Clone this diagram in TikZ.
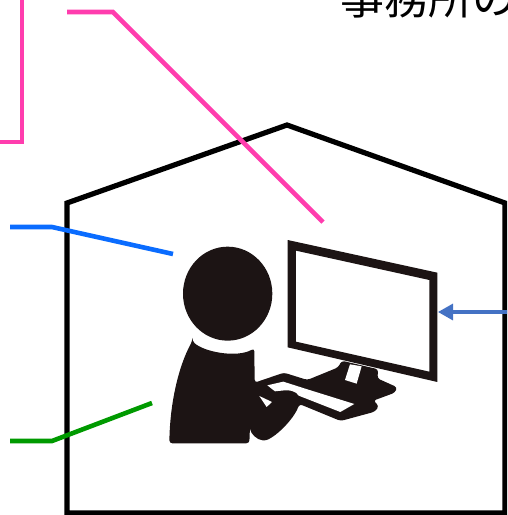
\documentclass[tikz,border=0pt]{standalone}
\usepackage{fontspec}
\newfontfamily\cjk{Noto Sans CJK JP}
\usetikzlibrary{arrows.meta}
\definecolor{pinkline}{HTML}{FF3DAE}
\definecolor{blueline}{HTML}{0A6CFF}
\definecolor{greenline}{HTML}{009A00}
\definecolor{arrowblue}{HTML}{4472C4}
\definecolor{iconblack}{HTML}{1C1414}
\tikzset{
  leader/.style={line width=4.6pt,line join=miter},
  housewall/.style={draw=black,line width=5.2pt,line join=miter},
  icon/.style={fill=iconblack,draw=none}
}
\begin{document}
\begin{tikzpicture}[x=1pt,y=-1pt]
\useasboundingbox (0,0) rectangle (507,515);
\begin{scope}
\clip (0,0) rectangle (507,515);
\draw[housewall] (67,203) -- (287,125) -- (505,203) -- (505,513) -- (67,513) -- cycle;
\coordinate (p1a) at (22,-5);
\coordinate (p1b) at (22,142);
\coordinate (p1c) at (-2,142);
\coordinate (p2a) at (67,12);
\coordinate (p2b) at (113,12);
\coordinate (p2c) at (323,222);
\coordinate (b1a) at (10,227);
\coordinate (b1b) at (52,227);
\coordinate (b1c) at (173,254);
\coordinate (g1a) at (10,441);
\coordinate (g1b) at (52,441);
\coordinate (g1c) at (152,403);
\coordinate (a1a) at (510,312);
\coordinate (a1b) at (438,312);
\draw[leader,pinkline] (p1a) -- (p1b) -- (p1c);
\draw[leader,pinkline] (p2a) -- (p2b) -- (p2c);
\draw[leader,blueline] (b1a) -- (b1b) -- (b1c);
\draw[leader,greenline] (g1a) -- (g1b) -- (g1c);
\draw[arrowblue,line width=3.2pt,-{Triangle[length=15pt,width=16pt]}] (a1a) -- (a1b);
\node[anchor=base west,inner sep=0pt,font=\cjk\fontsize{44pt}{44pt}\selectfont] (title) at (340,14) {事務所の};
\begin{scope}[shift={(160,230)},x=0.3333pt,y=-0.3333pt]
  \fill[icon] (203,191) ellipse [x radius=134,y radius=141];
  % monitor
  \fill[icon,even odd rule] (383,30) -- (832,128) -- (832,456) -- (383,352) -- cycle
     (408,62) -- (808,150) -- (808,425) -- (408,335) -- cycle;
  % body, arm, keyboard and stand
  \fill[icon,rounded corners=3pt] (97,333) .. controls (130,365) and (230,385) .. (283,355)
     -- (284,458) -- (372,428) -- (442,450) -- (535,412) -- (545,392) -- (655,418) -- (652,445)
     -- (712,472) -- (705,488) -- (640,512) -- (657,528) -- (645,545) -- (542,573) -- (418,522)
     .. controls (405,560) and (360,610) .. (318,632) .. controls (290,630) and (272,610) .. (270,590)
     -- (268,640) -- (28,640) .. controls (30,520) and (55,410) .. (97,333) -- cycle;
  % white gaps
  \fill[white] (555,450) -- (570,403) -- (605,409) -- (590,461) -- cycle;
  \fill[white] (322,466) -- (370,455) -- (442,478) -- (583,522) -- (541,546) -- (416,497)
     .. controls (410,485) and (390,478) .. (365,482) -- (345,484) -- cycle;
  \fill[white] (298,498) -- (336,516) -- (320,531) -- cycle;
\end{scope}
\end{scope}
\end{tikzpicture}
\end{document}
